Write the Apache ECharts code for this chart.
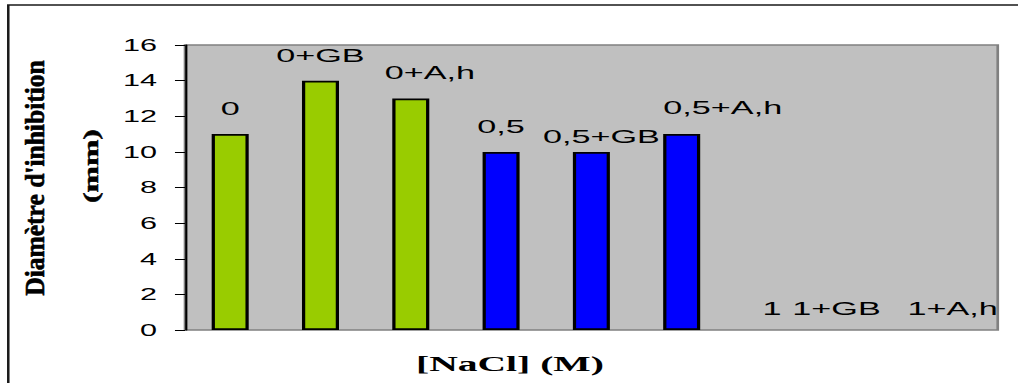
<!DOCTYPE html>
<html>
<head>
<meta charset="utf-8">
<script src="https://cdn.jsdelivr.net/npm/echarts@6/dist/echarts.min.js"></script>
<style>
  html, body { margin: 0; padding: 0; background: #ffffff; overflow: hidden; }
  /* chart is laid out narrow and widened horizontally, like the exported figure */
  #chart { width: 565.6px; height: 383px; transform: scaleX(1.8); transform-origin: 0 0; }
</style>
</head>
<body>
<div id="chart"></div>
<script>
// NaCl concentration / treatment groups
const categories = ['0', '0+GB', '0+A,h', '0,5', '0,5+GB', '0,5+A,h', '1', '1+GB', '1+A,h'];
// inhibition zone diameter (mm)
const diameters = [11, 14, 13, 10, 10, 11, 0, 0, 0];
// colour per NaCl level
const groupColors = ['#99CC00', '#99CC00', '#99CC00', '#0000FF', '#0000FF', '#0000FF', '#808080', '#808080', '#808080'];
// fine placement of the category labels above each bar
const labelShift = [[0, 0], [0, 0], [10.6, 0], [0, 0], [5.6, 10], [22.8, -1], [0, 4], [-14.3, 4], [0, 4]];
const yTicks = { min: 0, max: 16, step: 2 };

const chart = echarts.init(document.getElementById('chart'), null, { renderer: 'svg' });

const barData = diameters.map((v, i) => ({
  value: v,
  itemStyle: {
    color: groupColors[i],
    borderColor: '#000000',
    borderWidth: v > 0 ? 1.8 : 0
  },
  label: { offset: labelShift[i] }
}));

chart.setOption({
  animation: false,
  backgroundColor: '#ffffff',
  grid: {
    left: 102.8, right: 11.7, top: 45, bottom: 53,
    show: true,
    backgroundColor: '#C0C0C0',
    borderColor: '#808080',
    borderWidth: 1.5
  },
  xAxis: {
    type: 'category',
    data: categories,
    axisLine: { show: false },
    axisTick: { show: false },
    axisLabel: { show: false },
    splitLine: { show: false }
  },
  yAxis: {
    type: 'value',
    min: yTicks.min, max: yTicks.max, interval: yTicks.step,
    axisLine: { show: true, lineStyle: { color: '#000000', width: 1.2 } },
    axisTick: { show: true, inside: false, length: 5.6, lineStyle: { color: '#000000', width: 1 } },
    axisLabel: { margin: 15.5, color: '#000000', fontSize: 17, fontFamily: 'Liberation Sans, Arial, sans-serif' },
    splitLine: { show: false }
  },
  series: [{
    type: 'bar',
    data: barData,
    barWidth: '41%',
    label: {
      show: true,
      position: 'top',
      distance: 16,
      formatter: p => categories[p.dataIndex],
      color: '#000000',
      fontSize: 19,
      fontFamily: 'Liberation Sans, Arial, sans-serif'
    }
  }],
  graphic: [
    {
      type: 'rect',
      silent: true,
      shape: { x: 4.6, y: 5, width: 700, height: 500 },
      style: { fill: 'none', stroke: '#1a1a1a', lineWidth: 1.4 }
    },
    {
      type: 'text',
      silent: true,
      x: 19.5, y: 178,
      rotation: Math.PI / 2,
      scaleX: 0.58, scaleY: 0.34,
      style: {
        text: 'Diamètre d\'inhibition',
        font: 'bold 44px "Liberation Serif", "Times New Roman", serif',
        fill: '#000000',
        stroke: '#000000', lineWidth: 1,
        align: 'center', verticalAlign: 'middle',
        textAlign: 'center', textVerticalAlign: 'middle'
      }
    },
    {
      type: 'text',
      silent: true,
      x: 50.6, y: 166,
      rotation: Math.PI / 2,
      scaleX: 0.72, scaleY: 0.26,
      style: {
        text: '(mm)',
        font: 'bold 44px "Liberation Serif", "Times New Roman", serif',
        fill: '#000000',
        stroke: '#000000', lineWidth: 1,
        align: 'center', verticalAlign: 'middle',
        textAlign: 'center', textVerticalAlign: 'middle'
      }
    },
    {
      type: 'text',
      silent: true,
      x: 283.3, y: 363,
      style: {
        text: '[NaCl] (M)',
        font: 'bold 22px "Liberation Serif", "Times New Roman", serif',
        fill: '#000000',
        align: 'center', verticalAlign: 'middle',
        textAlign: 'center', textVerticalAlign: 'middle'
      }
    }
  ]
});
</script>
</body>
</html>
